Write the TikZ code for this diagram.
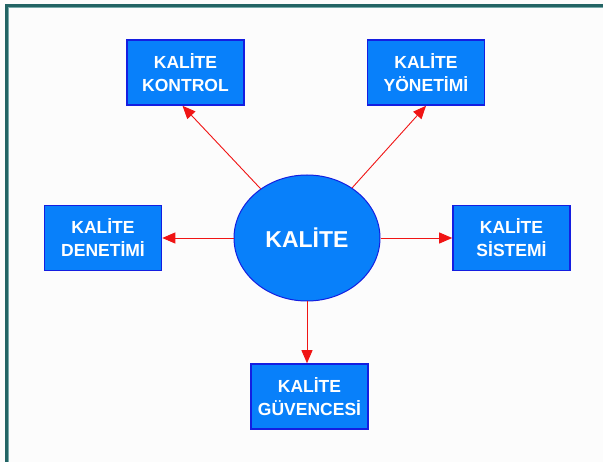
\documentclass[tikz,border=0pt]{standalone}
\usepackage{fontspec}
\setmainfont{Liberation Sans}
\usetikzlibrary{arrows.meta,shapes.geometric}
\definecolor{boxblue}{RGB}{8,128,250}
\definecolor{edgeblue}{RGB}{20,30,225}
\definecolor{frameteal}{RGB}{35,100,100}
\definecolor{framelight}{RGB}{120,170,170}
\definecolor{arrowred}{RGB}{240,20,20}
\tikzset{
  topicbox/.style={draw=edgeblue, line width=1.6pt, fill=boxblue, text=white,
    font=\fontsize{17.5}{23}\selectfont\bfseries, align=center,
    minimum width=117pt, minimum height=65pt, inner sep=0pt},
  hub/.style={ellipse, draw=edgeblue, line width=1pt, fill=boxblue, text=white,
    font=\fontsize{23}{26}\selectfont\bfseries,
    minimum width=146pt, minimum height=126pt, inner sep=0pt},
  link/.style={draw=arrowred, line width=0.9pt,
    -{Triangle[length=13pt,width=11pt]}}
}
\begin{document}
\begin{tikzpicture}[x=1pt,y=-1pt]
  \useasboundingbox (0,0) rectangle (603,462);
  \fill[white!99!black] (0,0) rectangle (603,462);
  % outer frame
  \draw[frameteal, line width=2.2pt] (6.5,470) -- (6.5,5.5) -- (610,5.5);
  \draw[framelight, line width=0.6pt] (8.3,470) -- (8.3,7.3) -- (610,7.3);

  % central ellipse and surrounding topics
  \node[hub] (c) at (307,238) {KALİTE};
  \node[topicbox] (kon) at (185.5,72.5) {KALİTE\\KONTROL};
  \node[topicbox] (yon) at (426,72.5) {KALİTE\\YÖNETİMİ};
  \node[topicbox] (den) at (103,238) {KALİTE\\DENETİMİ};
  \node[topicbox] (sis) at (511.5,238) {KALİTE\\SİSTEMİ};
  \node[topicbox] (guv) at (309.5,396.5) {KALİTE\\GÜVENCESİ};

  % connectors
  \draw[link] (c) -- ([xshift=-3pt]kon.south);
  \draw[link] (c) -- (yon.south);
  \draw[link] (c.west) -- (den.east);
  \draw[link] (c.east) -- (sis.west);
  \draw[link] (c.south) -- (c.south |- guv.north);
\end{tikzpicture}
\end{document}
